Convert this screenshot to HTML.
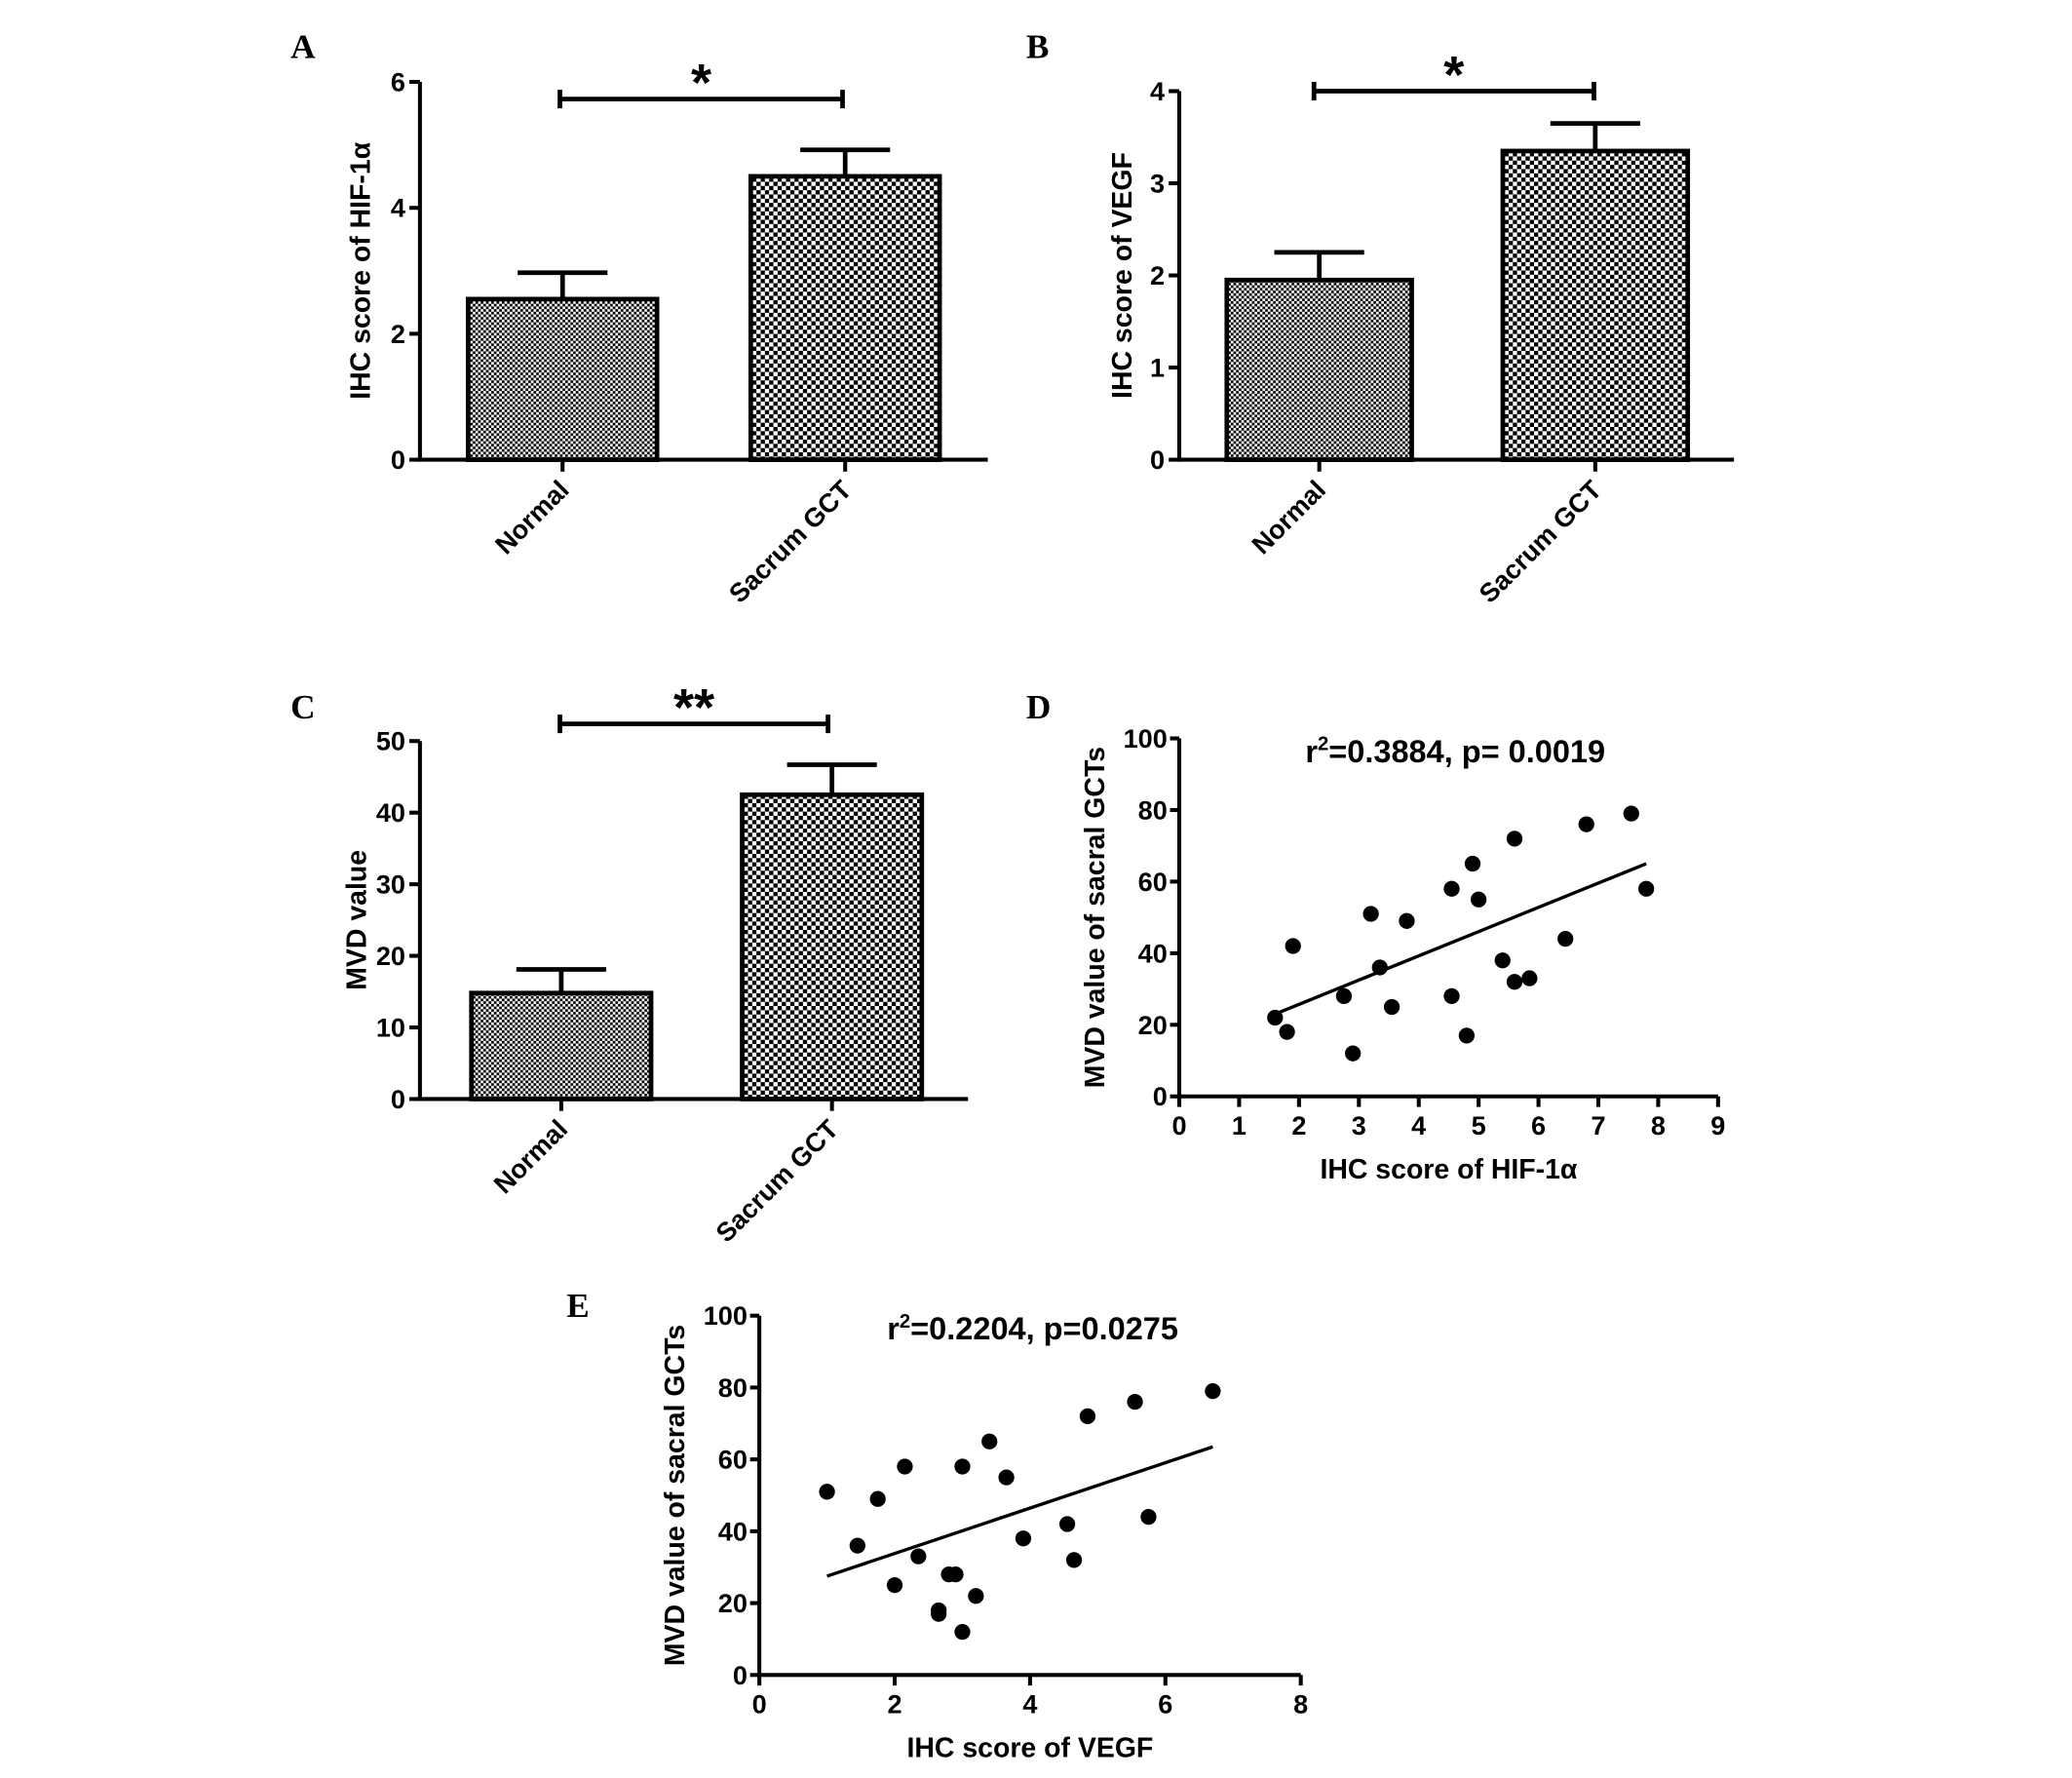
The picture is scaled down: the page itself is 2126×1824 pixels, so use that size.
<!DOCTYPE html>
<html><head><meta charset="utf-8"><style>
html,body{margin:0;padding:0;background:#fff;}
svg{display:block;}
text{font-family:"Liberation Sans",Arial,sans-serif;font-weight:bold;fill:#000;}
.lbl{font-family:"Liberation Serif",serif;font-size:26px;}
</style></head><body>
<svg id="fig" width="2126" height="1824" viewBox="0 0 1569 1346" preserveAspectRatio="none" xmlns="http://www.w3.org/2000/svg">
<defs>
<pattern id="pn" width="4" height="4" patternUnits="userSpaceOnUse"><rect width="4" height="4" fill="#fff"/><rect width="2" height="2" fill="#000"/><rect x="2" y="2" width="2" height="2" fill="#000"/></pattern>
<pattern id="ps" width="6.4" height="6.4" patternUnits="userSpaceOnUse"><rect width="6.4" height="6.4" fill="#fff"/><rect width="3.2" height="3.2" fill="#000"/><rect x="3.2" y="3.2" width="3.2" height="3.2" fill="#000"/></pattern>
</defs>
<text class="lbl" x="220" y="44">A</text>
<text class="lbl" x="777" y="44">B</text>
<text class="lbl" x="220" y="544">C</text>
<text class="lbl" x="777" y="544">D</text>
<text class="lbl" x="429" y="997">E</text>
</svg>
<script>
// Bar chart data
const barCategories = ["Normal", "Sacrum GCT"];
const hifMeans = [2.55, 4.5];
const hifErrors = [0.42, 0.42];
const hifTicks = [0, 2, 4, 6];
const vegfMeans = [1.95, 3.35];
const vegfErrors = [0.3, 0.3];
const vegfTicks = [0, 1, 2, 3, 4];
const mvdMeans = [14.8, 42.5];
const mvdErrors = [3.3, 4.2];
const mvdTicks = [0, 10, 20, 30, 40, 50];
// Scatter D data
const dHif = [1.6,1.8,1.9,2.75,2.9,3.2,3.35,3.55,3.8,4.55,4.55,4.8,4.9,5.0,5.4,5.6,5.6,5.85,6.45,6.8,7.55,7.8];
const dMvd = [22,18,42,28,12,51,36,25,49,58,28,17,65,55,38,32,72,33,44,76,79,58];
const dFitX = [1.6, 7.8];
const dFitY = [23, 65];
const dXTicks = [0,1,2,3,4,5,6,7,8,9];
const dYTicks = [0,20,40,60,80,100];
// Scatter E data
const eVegf = [1,1.45,1.75,2,2.15,2.35,2.65,2.65,2.8,2.9,3,3,3.2,3.4,3.65,3.9,4.55,4.65,4.85,5.55,5.75,6.7];
const eMvd = [51,36,49,25,58,33,18,17,28,28,58,12,22,65,55,38,42,32,72,76,44,79];
const eFitX = [1, 6.7];
const eFitY = [27.5, 63.5];
const eXTicks = [0,2,4,6,8];
const eYTicks = [0,20,40,60,80,100];

const NS = "http://www.w3.org/2000/svg";
const svg = document.getElementById("fig");
function mk(tag, attrs, parent, txt) {
  const e = document.createElementNS(NS, tag);
  for (const k in attrs) e.setAttribute(k, attrs[k]);
  if (txt !== undefined) e.textContent = txt;
  (parent || svg).appendChild(e);
  return e;
}
function lin(d0, d1, r0, r1) { return v => r0 + (v - d0) * (r1 - r0) / (d1 - d0); }

function barPanel(cfg) {
  const g = mk("g", {});
  
  
  const y = lin(0, cfg.ymax, cfg.y0, cfg.y1);
  const ya = mk("line", {x1: cfg.ax, y1: cfg.y0 + 1.5, x2: cfg.ax, y2: cfg.y1, stroke: "#000", "stroke-width": 3}, g);
  
  
  cfg.ticks.forEach(t => {
    mk("line", {x1: cfg.ax - 8, y1: y(t), x2: cfg.ax, y2: y(t), stroke: "#000", "stroke-width": 3}, g);
    const tl = mk("text", {x: cfg.ax - 11, y: y(t) + 7, "text-anchor": "end", "font-size": 20}, g, t);
    
    
  });
  const xa = mk("line", {x1: cfg.ax, y1: cfg.y0, x2: cfg.xend, y2: cfg.y0, stroke: "#000", "stroke-width": 3}, g);
  
  
  const yt = mk("text", {transform: `translate(${cfg.titleX},${(cfg.y0 + cfg.y1) / 2}) rotate(-90)`, "text-anchor": "middle", "font-size": 21}, g, cfg.ytitle);
  
  
  barCategories.forEach((c, i) => {
    const cx = cfg.centers[i], w = cfg.bw;
    const top = y(cfg.means[i]);
    const b = mk("rect", {x: cx - w / 2, y: top, width: w, height: cfg.y0 - top, fill: i ? "url(#ps)" : "url(#pn)", stroke: "#000", "stroke-width": 3.5}, g);
    
    
    const et = y(cfg.means[i] + cfg.errs[i]);
    const eb = mk("path", {d: `M${cx},${top} V${et} M${cx - 34},${et} H${cx + 34}`, stroke: "#000", "stroke-width": 3.5, fill: "none"}, g);
    
    
    mk("line", {x1: cx, y1: cfg.y0, x2: cx, y2: cfg.y0 + 9, stroke: "#000", "stroke-width": 3}, g);
    const lx = cx + 6, ly = cfg.y0 + 24;
    const cl = mk("text", {transform: `translate(${lx},${ly}) rotate(-45)`, "text-anchor": "end", "font-size": 20}, g, c);
    
    
  });
  const sb = mk("path", {d: `M${cfg.sig[0]},${cfg.sigY} H${cfg.sig[1]} M${cfg.sig[0]},${cfg.sigY - 7} V${cfg.sigY + 7} M${cfg.sig[1]},${cfg.sigY - 7} V${cfg.sigY + 7}`, stroke: "#000", "stroke-width": 3.5, fill: "none"}, g);
  
  
  const st = mk("text", {x: (cfg.sig[0] + cfg.sig[1]) / 2, y: cfg.sigY + 1, "text-anchor": "middle", "font-size": 40}, g, cfg.star);
  
  
}

barPanel({name: "panel-a-hif1a-bar-chart", ax: 318, y0: 348, y1: 62, ymax: 6, xend: 748, ticks: hifTicks, means: hifMeans, errs: hifErrors, centers: [426, 640], bw: 143, ytitle: "IHC score of HIF-1α", titleX: 280, sig: [424, 638], sigY: 75, star: "*"});
barPanel({name: "panel-b-vegf-bar-chart", ax: 893, y0: 348, y1: 69, ymax: 4, xend: 1313, ticks: vegfTicks, means: vegfMeans, errs: vegfErrors, centers: [999, 1208], bw: 140, ytitle: "IHC score of VEGF", titleX: 857, sig: [995, 1207], sigY: 69, star: "*"});
barPanel({name: "panel-c-mvd-bar-chart", ax: 318, y0: 832, y1: 561, ymax: 50, xend: 733, ticks: mvdTicks, means: mvdMeans, errs: mvdErrors, centers: [425, 630], bw: 136, ytitle: "MVD value", titleX: 277, sig: [424, 627], sigY: 548, star: "**"});

function scatterPanel(cfg) {
  const g = mk("g", {});
  
  
  const x = lin(0, cfg.xmax, cfg.ax, cfg.xend);
  const y = lin(0, 100, cfg.y0, cfg.y1);
  const ya = mk("line", {x1: cfg.ax, y1: cfg.y0 + 1.5, x2: cfg.ax, y2: cfg.y1, stroke: "#000", "stroke-width": 3}, g);
  
  
  const xa = mk("line", {x1: cfg.ax, y1: cfg.y0, x2: cfg.xend, y2: cfg.y0, stroke: "#000", "stroke-width": 3}, g);
  
  
  cfg.yticks.forEach(t => {
    mk("line", {x1: cfg.ax - 7, y1: y(t), x2: cfg.ax, y2: y(t), stroke: "#000", "stroke-width": 3}, g);
    const tl = mk("text", {x: cfg.ax - 9, y: y(t) + 7, "text-anchor": "end", "font-size": 20}, g, t);
    
    
  });
  cfg.xticks.forEach(t => {
    mk("line", {x1: x(t), y1: cfg.y0, x2: x(t), y2: cfg.y0 + 8, stroke: "#000", "stroke-width": 3}, g);
    const tl = mk("text", {x: x(t), y: cfg.y0 + 29, "text-anchor": "middle", "font-size": 20}, g, t);
    
    
  });
  const xt = mk("text", {x: (cfg.ax + cfg.xend) / 2, y: cfg.y0 + 62, "text-anchor": "middle", "font-size": 21}, g, cfg.xtitle);
  
  
  const yt = mk("text", {transform: `translate(${cfg.ax - 57},${(cfg.y0 + cfg.y1) / 2}) rotate(-90)`, "text-anchor": "middle", "font-size": 21}, g, "MVD value of sacral GCTs");
  
  
  const tt = mk("text", {x: cfg.titleX, y: cfg.y1 + 18, "text-anchor": "middle", "font-size": 24}, g);
  
  
  mk("tspan", {}, tt, "r");
  mk("tspan", {dy: -9, "font-size": 15}, tt, "2");
  mk("tspan", {dy: 9}, tt, cfg.stat);
  const fl = mk("line", {x1: x(cfg.fitX[0]), y1: y(cfg.fitY[0]), x2: x(cfg.fitX[1]), y2: y(cfg.fitY[1]), stroke: "#000", "stroke-width": 2.5}, g);
  
  
  cfg.xs.forEach((v, i) => {
    const c = mk("circle", {cx: x(v), cy: y(cfg.ys[i]), r: 6, fill: "#000"}, g);
    
    
  });
}

scatterPanel({name: "panel-d-hif1a-mvd-scatter", ax: 893, xend: 1301, xmax: 9, y0: 830, y1: 559, xs: dHif, ys: dMvd, fitX: dFitX, fitY: dFitY, xticks: dXTicks, yticks: dYTicks, xtitle: "IHC score of HIF-1α", titleX: 1102, stat: "=0.3884, p= 0.0019"});
scatterPanel({name: "panel-e-vegf-mvd-scatter", ax: 575, xend: 985, xmax: 8, y0: 1268, y1: 996, xs: eVegf, ys: eMvd, fitX: eFitX, fitY: eFitY, xticks: eXTicks, yticks: eYTicks, xtitle: "IHC score of VEGF", titleX: 782, stat: "=0.2204, p=0.0275"});
</script>
</body></html>
